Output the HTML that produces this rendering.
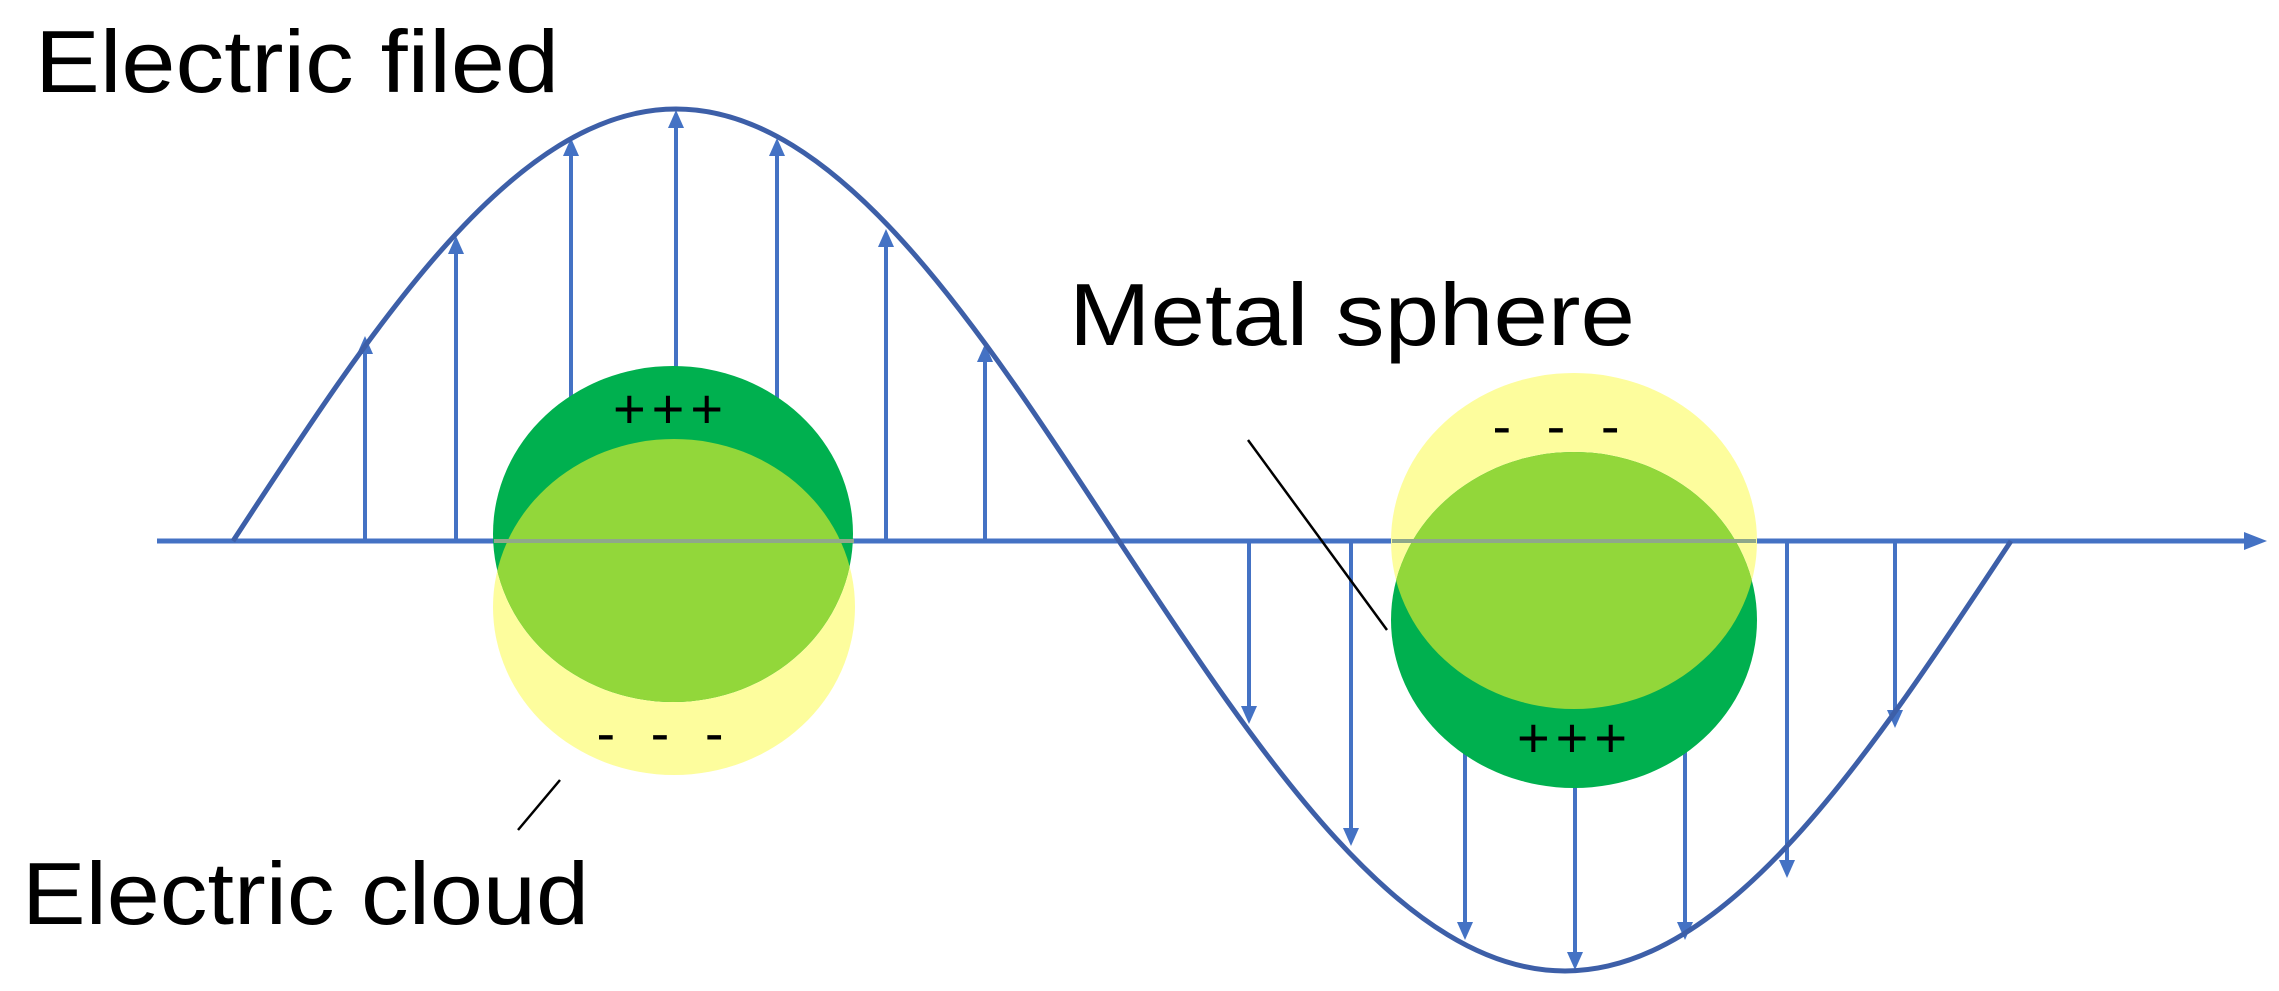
<!DOCTYPE html>
<html><head><meta charset="utf-8"><style>
html,body{margin:0;padding:0;background:#fff;}
svg{display:block;}
text{font-family:"Liberation Sans",sans-serif;fill:#000;}
</style></head><body>
<svg width="2279" height="991" viewBox="0 0 2279 991" xmlns="http://www.w3.org/2000/svg">
<defs>
<marker id="ah" markerWidth="10" markerHeight="10" refX="8" refY="5" orient="auto" markerUnits="userSpaceOnUse" viewBox="0 0 10 10">
</marker>
<clipPath id="cl1"><ellipse cx="674" cy="607" rx="181" ry="168"/></clipPath>
<clipPath id="cl2"><ellipse cx="1574" cy="541" rx="183" ry="168"/></clipPath>
</defs>

<!-- axis -->
<line x1="157" y1="541" x2="2250" y2="541" stroke="#4472c4" stroke-width="5"/>
<polygon points="2267,541 2244,532 2244,550" fill="#4472c4"/>

<!-- up arrows -->
<g stroke="#4472c4" stroke-width="4" fill="#4472c4">
<line x1="365" y1="541" x2="365" y2="352"/><polygon points="365,336 357,354 373,354" stroke="none"/>
<line x1="456" y1="541" x2="456" y2="252"/><polygon points="456,236 448,254 464,254" stroke="none"/>
<line x1="571" y1="541" x2="571" y2="154"/><polygon points="571,138 563,156 579,156" stroke="none"/>
<line x1="676" y1="541" x2="676" y2="126"/><polygon points="676,110 668,128 684,128" stroke="none"/>
<line x1="777" y1="541" x2="777" y2="154"/><polygon points="777,138 769,156 785,156" stroke="none"/>
<line x1="886" y1="541" x2="886" y2="245"/><polygon points="886,229 878,247 894,247" stroke="none"/>
<line x1="985" y1="541" x2="985" y2="360"/><polygon points="985,344 977,362 993,362" stroke="none"/>
<!-- down arrows -->
<line x1="1249" y1="541" x2="1249" y2="708"/><polygon points="1249,724 1241,706 1257,706" stroke="none"/>
<line x1="1351" y1="541" x2="1351" y2="830"/><polygon points="1351,846 1343,828 1359,828" stroke="none"/>
<line x1="1465" y1="541" x2="1465" y2="924"/><polygon points="1465,940 1457,922 1473,922" stroke="none"/>
<line x1="1575" y1="541" x2="1575" y2="954"/><polygon points="1575,970 1567,952 1583,952" stroke="none"/>
<line x1="1685" y1="541" x2="1685" y2="924"/><polygon points="1685,940 1677,922 1693,922" stroke="none"/>
<line x1="1787" y1="541" x2="1787" y2="862"/><polygon points="1787,878 1779,860 1795,860" stroke="none"/>
<line x1="1895" y1="541" x2="1895" y2="712"/><polygon points="1895,728 1887,710 1903,710" stroke="none"/>
</g>

<!-- sine curve -->
<path d="M233,541 C377.5,319.7 515.7,109 676,109 C836.3,109 974.5,319.7 1119,541 C1264.4,761.3 1403.6,971 1565,971 C1726.4,971 1865.6,761.3 2011,541" fill="none" stroke="#3d5fa8" stroke-width="5"/>

<!-- left sphere -->
<ellipse cx="674" cy="607" rx="181" ry="168" fill="#fdfd9d"/>
<ellipse cx="673" cy="534" rx="180" ry="168" fill="#00b04f"/>
<ellipse cx="673" cy="534" rx="180" ry="168" fill="#92d73a" clip-path="url(#cl1)"/>

<!-- right sphere -->
<ellipse cx="1574" cy="541" rx="183" ry="168" fill="#fdfd9d"/>
<ellipse cx="1574" cy="620" rx="183" ry="168" fill="#00b04f"/>
<ellipse cx="1574" cy="620" rx="183" ry="168" fill="#92d73a" clip-path="url(#cl2)"/>

<!-- axis through spheres (grey) -->
<line x1="494" y1="541" x2="854" y2="541" stroke="#8fa88a" stroke-width="4"/>
<line x1="1392" y1="541" x2="1756" y2="541" stroke="#8fa88a" stroke-width="4"/>

<!-- charges -->
<text x="671" y="428" font-size="56" text-anchor="middle" letter-spacing="6">+++</text>
<text x="665" y="752" font-size="56" text-anchor="middle" letter-spacing="10">- - -</text>
<text x="1561" y="445" font-size="56" text-anchor="middle" letter-spacing="10">- - -</text>
<text x="1575" y="757" font-size="56" text-anchor="middle" letter-spacing="6">+++</text>

<!-- leader lines -->
<line x1="560" y1="780" x2="518" y2="830" stroke="#000" stroke-width="2.5"/>
<line x1="1248" y1="440" x2="1387" y2="630" stroke="#000" stroke-width="2.5"/>

<!-- labels -->
<text x="35" y="92" font-size="88" textLength="524" lengthAdjust="spacingAndGlyphs">Electric filed</text>
<text x="1069" y="345" font-size="88" textLength="566" lengthAdjust="spacingAndGlyphs">Metal sphere</text>
<text x="22" y="924" font-size="88" textLength="567" lengthAdjust="spacingAndGlyphs">Electric cloud</text>
</svg>
</body></html>
